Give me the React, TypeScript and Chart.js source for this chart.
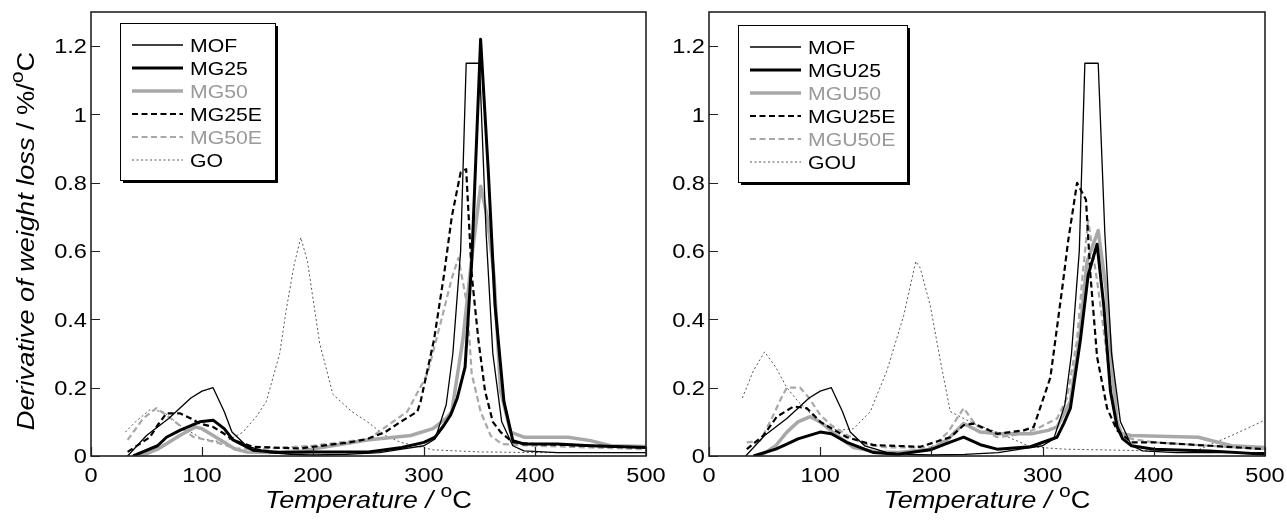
import React, { useEffect, useRef } from "react";
import { Chart, registerables } from "chart.js";
Chart.register(...registerables);

// ---------------- data ----------------
const X_TICKS = [0, 100, 200, 300, 400, 500];
const Y_TICKS = [0, 0.2, 0.4, 0.6, 0.8, 1, 1.2];

// MOF (same sample in both panels)
const MOF_T = [33, 50, 60, 70, 80, 90, 100, 110, 120, 127, 140, 150, 160, 180, 200, 230, 260, 280, 300, 310, 320, 326, 333, 338, 350, 356, 362, 370, 380, 390, 420, 460, 500];
const MOF_V = [0, 0.06, 0.085, 0.11, 0.14, 0.17, 0.19, 0.2, 0.13, 0.07, 0.03, 0.02, 0.01, 0.005, 0.003, 0.005, 0.01, 0.02, 0.03, 0.05, 0.15, 0.3, 0.6, 1.15, 1.15, 0.65, 0.3, 0.1, 0.03, 0.015, 0.01, 0.01, 0.01];

// Left panel
const MG25_T = [38, 60, 68, 80, 98, 110, 120, 128, 146, 170, 200, 250, 280, 300, 310, 318, 324, 330, 337, 343, 351, 358, 364, 372, 380, 390, 420, 450, 500];
const MG25_V = [0, 0.03, 0.055, 0.075, 0.1, 0.105, 0.08, 0.047, 0.017, 0.01, 0.012, 0.012, 0.025, 0.04, 0.055, 0.09, 0.12, 0.17, 0.26, 0.57, 1.22, 0.83, 0.44, 0.16, 0.045, 0.035, 0.035, 0.03, 0.025];
const MG50_T = [45, 60, 80, 94, 100, 110, 120, 130, 140, 160, 190, 249, 288, 308, 320, 325, 335, 343, 351, 357, 363, 369, 378, 390, 430, 450, 468, 500];
const MG50_V = [0, 0.02, 0.06, 0.085, 0.08, 0.06, 0.04, 0.02, 0.012, 0.01, 0.015, 0.047, 0.06, 0.08, 0.11, 0.13, 0.34, 0.58, 0.79, 0.7, 0.53, 0.19, 0.07, 0.055, 0.055, 0.045, 0.03, 0.028];
const MG25E_T = [33, 53, 60, 68, 80, 90, 98, 110, 120, 128, 146, 170, 188, 233, 249, 265, 279, 294, 297, 309, 318, 325, 333, 338, 343, 349, 355, 362, 369, 380, 400, 450, 500];
const MG25E_V = [0.012, 0.055, 0.09, 0.125, 0.125, 0.11, 0.095, 0.085, 0.065, 0.047, 0.027, 0.024, 0.022, 0.04, 0.05, 0.07, 0.1, 0.13, 0.16, 0.34, 0.53, 0.7, 0.83, 0.84, 0.53, 0.34, 0.19, 0.1, 0.07, 0.04, 0.035, 0.03, 0.025];
const MG50E_T = [33, 47, 59, 74, 92, 113, 130, 150, 200, 250, 285, 303, 315, 325, 331, 339, 343, 351, 360, 370, 400, 450, 500];
const MG50E_V = [0.047, 0.11, 0.14, 0.105, 0.056, 0.04, 0.022, 0.02, 0.03, 0.05, 0.13, 0.24, 0.39, 0.52, 0.58, 0.44, 0.24, 0.13, 0.06, 0.035, 0.03, 0.025, 0.02];
const GO_T = [31, 40, 53, 65, 80, 100, 120, 137, 150, 158, 170, 176, 183, 189, 195, 206, 218, 235, 249, 265, 279, 308, 350, 400, 450, 500];
const GO_V = [0.07, 0.1, 0.135, 0.13, 0.09, 0.05, 0.04, 0.07, 0.12, 0.16, 0.3, 0.43, 0.56, 0.64, 0.57, 0.33, 0.18, 0.13, 0.1, 0.06, 0.04, 0.018, 0.012, 0.01, 0.01, 0.01];

// Right panel
const MGU25_T = [40, 60, 70, 80, 100, 110, 124, 148, 170, 199, 214, 229, 244, 259, 289, 313, 319, 325, 334, 341, 349, 355, 361, 367, 372, 380, 400, 450, 500];
const MGU25_V = [0, 0.02, 0.035, 0.05, 0.07, 0.065, 0.04, 0.01, 0.005, 0.018, 0.037, 0.055, 0.033, 0.02, 0.027, 0.055, 0.095, 0.14, 0.34, 0.53, 0.62, 0.44, 0.19, 0.085, 0.05, 0.03, 0.02, 0.015, 0.005];
const MGU50_T = [46, 60, 70, 80, 91, 100, 115, 130, 150, 170, 200, 215, 229, 244, 260, 290, 305, 313, 325, 333, 340, 350, 357, 363, 367, 371, 380, 440, 470, 500];
const MGU50_V = [0, 0.03, 0.07, 0.1, 0.115, 0.1, 0.06, 0.025, 0.012, 0.01, 0.02, 0.05, 0.095, 0.07, 0.065, 0.065, 0.075, 0.085, 0.16, 0.34, 0.57, 0.66, 0.49, 0.24, 0.1, 0.065, 0.06, 0.055, 0.03, 0.025];
const MGU25E_T = [34, 49, 61, 76, 88, 100, 124, 148, 190, 217, 229, 238, 259, 283, 292, 307, 318, 323, 331, 339, 343, 349, 358, 367, 380, 400, 450, 500];
const MGU25E_V = [0.02, 0.06, 0.115, 0.145, 0.14, 0.1, 0.055, 0.032, 0.027, 0.055, 0.09, 0.095, 0.065, 0.075, 0.085, 0.23, 0.5, 0.63, 0.8, 0.75, 0.53, 0.29, 0.14, 0.075, 0.04, 0.04, 0.03, 0.02];
const MGU50E_T = [34, 46, 55, 65, 70, 82, 90, 100, 110, 125, 140, 160, 200, 215, 229, 240, 259, 283, 298, 313, 322, 331, 336, 341, 350, 358, 364, 370, 380, 400, 450, 500];
const MGU50E_V = [0.04, 0.045, 0.1, 0.17, 0.2, 0.2, 0.17, 0.12, 0.09, 0.06, 0.035, 0.025, 0.025, 0.07, 0.14, 0.09, 0.055, 0.065, 0.085, 0.11, 0.17, 0.34, 0.53, 0.69, 0.49, 0.29, 0.14, 0.07, 0.05, 0.04, 0.03, 0.02];
const GOU_T = [30, 40, 50, 60, 70, 80, 91, 100, 115, 130, 145, 160, 175, 186, 190, 199, 208, 217, 238, 259, 289, 320, 400, 440, 470, 500];
const GOU_V = [0.17, 0.25, 0.305, 0.26, 0.2, 0.16, 0.125, 0.1, 0.075, 0.08, 0.13, 0.25, 0.41, 0.57, 0.55, 0.44, 0.28, 0.13, 0.095, 0.07, 0.027, 0.02, 0.015, 0.018, 0.06, 0.105];

const LEFT_NAMES = ["MOF", "MG25", "MG50", "MG25E", "MG50E", "GO"];
const RIGHT_NAMES = ["MOF", "MGU25", "MGU50", "MGU25E", "MGU50E", "GOU"];

// ---------------- styles ----------------
const FONT = '"Liberation Sans", Arial, sans-serif';
const SX = 1.18;
const GRAY = "#a8a8a8";
type Sty = { color: string; width: number; dash: number[]; text: string };
const STYLES: Sty[] = [
  { color: "#000", width: 1.3, dash: [], text: "#000" },
  { color: "#000", width: 3, dash: [], text: "#000" },
  { color: GRAY, width: 3.5, dash: [], text: "#9a9a9a" },
  { color: "#000", width: 2.2, dash: [6, 3.5], text: "#000" },
  { color: GRAY, width: 2.2, dash: [6, 3.5], text: "#9a9a9a" },
  { color: "#555", width: 1, dash: [2, 2.5], text: "#000" },
];

const pts = (t: number[], v: number[]) => t.map((x, i) => ({ x, y: v[i] }));

type Seg = { t: string; italic?: boolean; sup?: boolean };
function drawRich(ctx: CanvasRenderingContext2D, segs: Seg[], cx: number, cy: number, size: number, rot: number) {
  ctx.save();
  ctx.translate(cx, cy);
  if (rot) ctx.rotate(rot);
  ctx.scale(SX, 1);
  ctx.fillStyle = "#000";
  ctx.textBaseline = "alphabetic";
  ctx.textAlign = "left";
  const fontOf = (s: Seg) => `${s.italic ? "italic " : ""}${s.sup ? size * 0.78 : size}px ${FONT}`;
  const widths = segs.map((s) => {
    ctx.font = fontOf(s);
    return ctx.measureText(s.t).width;
  });
  const total = widths.reduce((a, b) => a + b, 0);
  let x = -total / 2;
  segs.forEach((s, i) => {
    ctx.font = fontOf(s);
    ctx.fillText(s.t, x, s.sup ? -size * 0.47 : 0);
    x += widths[i];
  });
  ctx.restore();
}

function drawPlain(ctx: CanvasRenderingContext2D, text: string, x: number, y: number, size: number, align: "left" | "center" | "right", color = "#000") {
  ctx.save();
  ctx.font = `${size}px ${FONT}`;
  const w = ctx.measureText(text).width * SX;
  let left = x;
  if (align === "center") left = x - w / 2;
  if (align === "right") left = x - w;
  ctx.translate(left, y);
  ctx.scale(SX, 1);
  ctx.fillStyle = color;
  ctx.textAlign = "left";
  ctx.textBaseline = "alphabetic";
  ctx.fillText(text, 0, 0);
  ctx.restore();
}

type PanelCfg = {
  series: { t: number[]; v: number[] }[];
  names: string[];
  padLeft: number;
  padRight: number;
  width: number;
  legendW: number;
  legendTop: number;
  yTitle: boolean;
};

function makePlugin(cfg: PanelCfg) {
  return {
    id: "decor",
    afterDraw(chart: any) {
      const ctx: CanvasRenderingContext2D = chart.ctx;
      const a = chart.chartArea;
      const xs = chart.scales.x;
      const ys = chart.scales.y;
      ctx.save();
      // frame
      ctx.strokeStyle = "#222";
      ctx.lineWidth = 1.6;
      ctx.strokeRect(a.left, a.top, a.right - a.left, a.bottom - a.top);
      // inward ticks
      ctx.lineWidth = 1.2;
      ctx.beginPath();
      X_TICKS.forEach((t) => {
        const px = Math.round(xs.getPixelForValue(t)) + 0.5;
        ctx.moveTo(px, a.bottom);
        ctx.lineTo(px, a.bottom - 9);
      });
      Y_TICKS.forEach((t) => {
        const py = Math.round(ys.getPixelForValue(t)) + 0.5;
        ctx.moveTo(a.left, py);
        ctx.lineTo(a.left + 9, py);
      });
      ctx.stroke();
      // tick labels
      X_TICKS.forEach((t) => drawPlain(ctx, String(t), xs.getPixelForValue(t), a.bottom + 26, 20, "center"));
      Y_TICKS.forEach((t) => drawPlain(ctx, String(Math.round(t * 10) / 10), a.left - 4, ys.getPixelForValue(t) + 7.2, 20, "right"));
      // axis titles
      drawRich(
        ctx,
        [{ t: "Temperature / ", italic: true }, { t: "o", sup: true }, { t: "C" }],
        (a.left + a.right) / 2,
        a.bottom + 52,
        23,
        0
      );
      if (cfg.yTitle) {
        drawRich(
          ctx,
          [{ t: "Derivative of weight loss", italic: true }, { t: " / %/" }, { t: "o", sup: true }, { t: "C" }],
          34,
          (a.top + a.bottom) / 2 + 7,
          23,
          -Math.PI / 2
        );
      }
      // legend
      const bx = a.left + 29;
      const by = cfg.legendTop;
      const bw = cfg.legendW;
      const bh = 157;
      ctx.fillStyle = "#000";
      ctx.fillRect(bx + 3, by + 3, bw, bh);
      ctx.fillStyle = "#fff";
      ctx.fillRect(bx, by, bw, bh);
      ctx.strokeStyle = "#000";
      ctx.lineWidth = 1;
      ctx.strokeRect(bx + 0.5, by + 0.5, bw, bh);
      cfg.names.forEach((name, i) => {
        const st = STYLES[i];
        const ry = by + 22 + i * 23;
        ctx.save();
        ctx.strokeStyle = st.color;
        ctx.lineWidth = st.width;
        ctx.setLineDash(st.dash);
        ctx.beginPath();
        ctx.moveTo(bx + 12, ry);
        ctx.lineTo(bx + 63, ry);
        ctx.stroke();
        ctx.restore();
        drawPlain(ctx, name, bx + 70, ry + 6.5, 18, "left", st.text);
      });
      ctx.restore();
    },
  };
}

function Panel({ cfg, left }: { cfg: PanelCfg; left: number }) {
  const ref = useRef<HTMLCanvasElement>(null);
  useEffect(() => {
    if (!ref.current) return;
    const datasets = cfg.series.map((s, i) => {
      const st = STYLES[i];
      return {
        label: cfg.names[i],
        data: pts(s.t, s.v),
        borderColor: st.color,
        borderWidth: st.width,
        borderDash: st.dash,
        borderJoinStyle: "round" as const,
        pointRadius: 0,
        tension: 0,
        fill: false,
      };
    });
    // draw order: index 0 on top
    const order = [1, 0, 3, 2, 4, 5];
    const chart = new Chart(ref.current, {
      type: "line",
      data: { datasets: order.map((i) => datasets[i]) },
      options: {
        responsive: false,
        animation: false,
        devicePixelRatio: 1,
        layout: { padding: { left: cfg.padLeft, right: cfg.padRight, top: 12, bottom: 65 } },
        plugins: { legend: { display: false }, tooltip: { enabled: false } },
        scales: {
          x: { type: "linear", min: 0, max: 500, display: false },
          y: { type: "linear", min: 0, max: 1.3, display: false },
        },
      },
      plugins: [makePlugin(cfg)],
    });
    return () => chart.destroy();
  }, []);
  return (
    <canvas
      ref={ref}
      width={cfg.width}
      height={521}
      style={{ position: "absolute", left, top: 0, width: cfg.width, height: 521, display: "block" }}
    />
  );
}

const LEFT_CFG: PanelCfg = {
  series: [
    { t: MOF_T, v: MOF_V },
    { t: MG25_T, v: MG25_V },
    { t: MG50_T, v: MG50_V },
    { t: MG25E_T, v: MG25E_V },
    { t: MG50E_T, v: MG50E_V },
    { t: GO_T, v: GO_V },
  ],
  names: LEFT_NAMES,
  padLeft: 91,
  padRight: 44,
  width: 690,
  legendW: 155,
  legendTop: 23,
  yTitle: true,
};

const RIGHT_CFG: PanelCfg = {
  series: [
    { t: MOF_T, v: MOF_V },
    { t: MGU25_T, v: MGU25_V },
    { t: MGU50_T, v: MGU50_V },
    { t: MGU25E_T, v: MGU25E_V },
    { t: MGU50E_T, v: MGU50E_V },
    { t: GOU_T, v: GOU_V },
  ],
  names: RIGHT_NAMES,
  padLeft: 69,
  padRight: 22,
  width: 647,
  legendW: 169,
  legendTop: 25,
  yTitle: false,
};

export default function App() {
  return (
    <div style={{ position: "fixed", left: 0, top: 0, width: 1287, height: 521, background: "#fff", overflow: "hidden" }}>
      <Panel cfg={LEFT_CFG} left={0} />
      <Panel cfg={RIGHT_CFG} left={640} />
    </div>
  );
}
